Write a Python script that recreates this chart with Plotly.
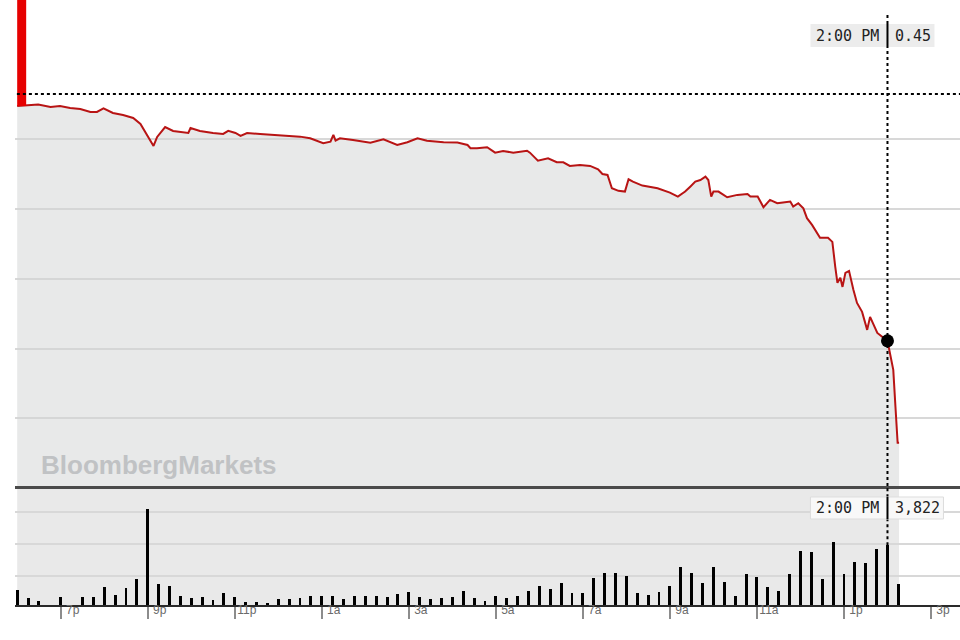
import pandas as pd
import plotly.graph_objects as go

# ---------------- data ----------------
DAY1 = "2019-01-02"   # evening session (from late afternoon onward)
DAY2 = "2019-01-03"   # next day

price_time = ["18:00","18:18","18:29","18:46","18:59","19:13","19:27","19:41","19:50","19:59",
              "20:12","20:26","20:40","20:50","20:59","21:08","21:13","21:24","21:35","21:49",
              "21:56","21:59","22:12","22:30","22:44","22:51","23:01","23:08","23:17","23:35",
              "00:03","00:30","00:44","01:02","01:12","01:16","01:19","01:25","01:43","02:07",
              "02:25","02:34","02:44","02:58","03:12","03:25","03:48","04:07","04:21","04:25",
              "04:34","04:48","04:59","05:10","05:24","05:43","05:47","05:58","06:12","06:24",
              "06:33","06:42","06:56","07:10","07:21","07:27","07:34","07:40","07:49","07:58",
              "08:03","08:09","08:22","08:43","09:00","09:11","09:21","09:28","09:35","09:42",
              "09:49","09:53","09:57","10:00","10:07","10:19","10:33","10:47","10:51","11:01",
              "11:09","11:18","11:28","11:36","11:46","11:50","11:57","12:04","12:09","12:16",
              "12:20","12:27","12:38","12:44","12:48","12:51","12:55","12:58","13:02","13:07",
              "13:13","13:18","13:25","13:32","13:36","13:40","13:46","14:00","14:05","14:08",
              "14:11","14:14","14:16"]

price = [0.6240,0.6247,0.6251,0.6233,0.6240,0.6226,0.6218,0.6197,0.6197,0.6222,
         0.6190,0.6175,0.6154,0.6111,0.6032,0.5953,0.6018,0.6089,0.6061,0.6054,
         0.6046,0.6082,0.6061,0.6046,0.6039,0.6061,0.6046,0.6025,0.6046,0.6039,
         0.6028,0.6020,0.6008,0.5973,0.5984,0.6032,0.5991,0.6008,0.5996,0.5977,
         0.6001,0.5984,0.5960,0.5980,0.6008,0.5991,0.5980,0.5977,0.5960,0.5937,
         0.5937,0.5944,0.5905,0.5917,0.5905,0.5919,0.5905,0.5848,0.5865,0.5836,
         0.5836,0.5810,0.5817,0.5810,0.5786,0.5752,0.5745,0.5650,0.5631,0.5626,
         0.5714,0.5697,0.5669,0.5650,0.5618,0.5590,0.5626,0.5661,0.5697,0.5709,
         0.5733,0.5709,0.5590,0.5626,0.5626,0.5585,0.5602,0.5609,0.5590,0.5590,
         0.5514,0.5566,0.5542,0.5547,0.5554,0.5518,0.5542,0.5506,0.5435,0.5387,
         0.5351,0.5294,0.5294,0.5265,0.5086,0.4971,0.5007,0.4942,0.5043,0.5057,
         0.4921,0.4827,0.4763,0.4634,0.4727,0.4684,0.4612,0.4555,0.4440,0.4347,
         0.4082,0.3824,0.3824]

prev_close = 0.6326

# 15-minute volume bars, 6:00 PM through 2:15 PM
volume_start = "18:00"
volume = [960, 430, 275, 0, 490, 0, 530, 530, 1170, 640, 1105, 1660,
          6115, 1320, 1235, 575, 465, 490, 320, 750, 530, 210, 210, 130,
          365, 385, 465, 595, 575, 575, 385, 595, 595, 555, 490, 685,
          850, 530, 405, 465, 510, 875, 445, 275, 595, 430, 575, 915,
          1215, 1040, 1385, 785, 750, 1705, 2065, 2065, 1855, 750, 640, 810,
          1235, 2410, 2065, 1385, 2410, 1490, 595, 1960, 1770, 1130, 875, 1980,
          3430, 3385, 1680, 4025, 1980, 2730, 2705, 3580, 3822, 1320]

tick_time = ["19:00","21:00","23:00","01:00","03:00","05:00","07:00","09:00","11:00","13:00","15:00"]
tick_text = ["7p","9p","11p","1a","3a","5a","7a","9a","11a","1p","3p"]

cross_time = "14:00"
cross_time_label = "2:00 PM"
cross_price_label = "0.45"

x_range = ["17:57", "15:40"]
price_range = [0.3514, 0.70]
price_grid = [0.40, 0.45, 0.50, 0.55, 0.60]
volume_range = [0, 7480]
volume_grid = [1870, 3930, 5930]

# ---------------- helpers ----------------
def stamp(hm):
    day = DAY1 if int(hm[:2]) >= 16 else DAY2
    return pd.Timestamp(f"{day} {hm}")

px_t = [stamp(t) for t in price_time]
vol_t = list(pd.date_range(stamp(volume_start), periods=len(volume), freq="15min"))
cross_t = stamp(cross_time)
cross_p = price[price_time.index(cross_time)]
cross_v = volume[vol_t.index(cross_t)]

# geometry (px): plot area 0..605 tall
H_PLOT = 605.0
price_bottom = 119 / H_PLOT
vol_top = 117 / H_PLOT

fig = go.Figure()

fig.add_trace(go.Scatter(
    x=px_t, y=price, mode="lines",
    line=dict(color="#b81414", width=2),
    fill="tozeroy", fillcolor="rgba(209,211,211,0.5)",
    xaxis="x", yaxis="y", hoverinfo="skip"))

fig.add_trace(go.Scatter(
    x=[cross_t], y=[cross_p], mode="markers",
    marker=dict(color="black", size=13),
    xaxis="x", yaxis="y", hoverinfo="skip"))

fig.add_trace(go.Bar(
    x=vol_t, y=volume, width=240000,
    marker=dict(color="black", line=dict(width=0)),
    xaxis="x2", yaxis="y2", hoverinfo="skip"))

mono = dict(family="DejaVu Sans Mono", size=15, color="#222222")

shapes = [
    # grey background of the volume panel up to the last print
    dict(type="rect", xref="x2", yref="y2 domain", x0=vol_t[0], x1=px_t[-1], y0=0, y1=1,
         fillcolor="#e9e9e9", line=dict(width=0), layer="below"),
    # red opening bar
    dict(type="rect", xref="x", yref="y", xsizemode="pixel", xanchor=px_t[0], x0=0, x1=9,
         y0=price[0], y1=price_range[1], fillcolor="#e60000", line=dict(width=0), layer="above"),
    # previous close dotted line
    dict(type="line", xref="paper", yref="y", x0=0.002, x1=1, y0=prev_close, y1=prev_close,
         line=dict(color="black", width=2, dash="dot"), layer="above"),
    # crosshair
    dict(type="line", xref="x", yref="paper", x0=cross_t, x1=cross_t, y0=price_bottom, y1=0.98,
         line=dict(color="black", width=2, dash="dot"), layer="above"),
    dict(type="line", xref="x2", yref="y2", x0=cross_t, x1=cross_t, y0=cross_v, y1=volume_range[1],
         line=dict(color="black", width=2, dash="dot"), layer="above"),
    # label boxes
    dict(type="rect", xref="x", yref="paper", xsizemode="pixel", ysizemode="pixel",
         xanchor=cross_t, yanchor=1, x0=-77, x1=47, y0=-24, y1=-47,
         fillcolor="#ececec", line=dict(width=0), layer="above"),
    dict(type="line", xref="x", yref="paper", ysizemode="pixel", yanchor=1,
         x0=cross_t, x1=cross_t, y0=-24, y1=-47, line=dict(color="black", width=2), layer="above"),
    dict(type="rect", xref="x", yref="paper", xsizemode="pixel", ysizemode="pixel",
         xanchor=cross_t, yanchor=vol_top, x0=-77, x1=56, y0=-9, y1=-31,
         fillcolor="#f8f8f8", line=dict(width=1, color="#dddddd"), layer="above"),
    dict(type="line", xref="x", yref="paper", ysizemode="pixel", yanchor=vol_top,
         x0=cross_t, x1=cross_t, y0=-9, y1=-31, line=dict(color="black", width=2), layer="above"),
]

annotations = [
    dict(text=cross_time_label, x=cross_t, xref="x", y=1, yref="paper", xanchor="right",
         yanchor="middle", xshift=-6, yshift=-35.5, showarrow=False, font=mono),
    dict(text=cross_price_label, x=cross_t, xref="x", y=1, yref="paper", xanchor="left",
         yanchor="middle", xshift=6, yshift=-35.5, showarrow=False, font=mono),
    dict(text=cross_time_label, x=cross_t, xref="x", y=vol_top, yref="paper", xanchor="right",
         yanchor="middle", xshift=-6, yshift=-20, showarrow=False, font=mono),
    dict(text=f"{cross_v:,}", x=cross_t, xref="x", y=vol_top, yref="paper", xanchor="left",
         yanchor="middle", xshift=6, yshift=-20, showarrow=False, font=mono),
    dict(text="<b>BloombergMarkets</b>", x=0.0255, xref="paper", y=140 / H_PLOT, yref="paper",
         xanchor="left", yanchor="middle", showarrow=False,
         font=dict(family="Liberation Sans", size=26, color="#c0c2c4")),
]

xr = [stamp(x_range[0]), stamp(x_range[1])]

fig.update_layout(
    width=960, height=640,
    margin=dict(l=15, r=0, t=0, b=35),
    paper_bgcolor="white", plot_bgcolor="white",
    showlegend=False, bargap=0,
    xaxis=dict(domain=[0, 1], anchor="y", type="date", range=xr,
               showticklabels=False, showgrid=False, zeroline=False, ticks="",
               showline=True, linecolor="#4a4a4a", linewidth=3),
    xaxis2=dict(domain=[0, 1], anchor="y2", type="date", matches="x", range=xr,
                tickmode="array", tickvals=[stamp(t) for t in tick_time], ticktext=tick_text,
                ticks="outside", ticklen=12, tickwidth=1.5, tickcolor="#8c8c8c",
                tickfont=dict(family="Liberation Sans", size=12, color="#6a6a6a"),
                ticklabelshift=12, ticklabelstandoff=-19,
                showgrid=False, zeroline=False,
                showline=True, linecolor="#2a2a2a", linewidth=2),
    yaxis=dict(domain=[price_bottom, 1], range=price_range, tickmode="array",
               tickvals=price_grid, showticklabels=False, ticks="",
               gridcolor="#d8d8d8", gridwidth=1.5, zeroline=False),
    yaxis2=dict(domain=[0, vol_top], range=volume_range, tickmode="array",
                tickvals=volume_grid, showticklabels=False, ticks="",
                gridcolor="#d8d8d8", gridwidth=1.5, zeroline=False),
    shapes=shapes, annotations=annotations,
)

fig.write_html("out.html", config={"displayModeBar": False},
               post_script="document.body.style.margin='0';document.body.style.overflow='hidden';")
